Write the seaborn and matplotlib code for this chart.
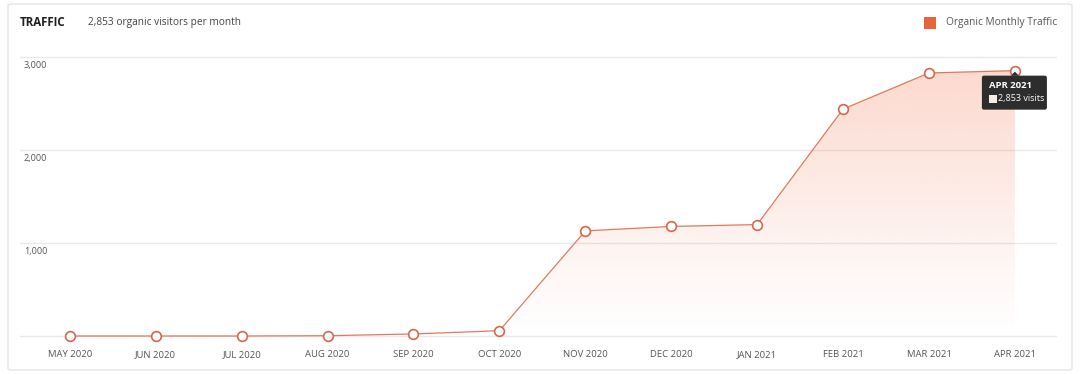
import numpy as np
import pandas as pd
import matplotlib
matplotlib.use("Agg")
import matplotlib.pyplot as plt
from matplotlib.patches import FancyBboxPatch, Rectangle, Polygon
import seaborn as sns

# ---- data ----
months = ["MAY 2020", "JUN 2020", "JUL 2020", "AUG 2020", "SEP 2020", "OCT 2020",
          "NOV 2020", "DEC 2020", "JAN 2021", "FEB 2021", "MAR 2021", "APR 2021"]
visits = [0, 0, 0, 3, 22, 57, 1130, 1178, 1198, 2440, 2828, 2853]
y_ticks = [1000, 2000, 3000]
y_tick_labels = ["1,000", "2,000", "3,000"]
title = "TRAFFIC"
subtitle = "2,853 organic visitors per month"
legend_label = "Organic Monthly Traffic"
tooltip_title = "APR 2021"
tooltip_value = "2,853 visits"

ORANGE = "#e8643a"
LINE = "#dd7b5e"
TXT = "#555555"

sns.set_theme(style="white")
plt.rcParams["font.family"] = ["Open Sans", "DejaVu Sans"]

W, H = 1080, 374
fig = plt.figure(figsize=(W / 100, H / 100), dpi=100)
fig.patch.set_facecolor("white")

# card border
card = FancyBboxPatch((8 / W, 4 / H), (1064) / W, (366) / H,
                      boxstyle="round,pad=0,rounding_size=0.004",
                      transform=fig.transFigure, fc="none", ec="#e4e4e4", lw=1.0, zorder=-5)
fig.patches.append(card)

# axes placement (pixels from top)
ax_left, ax_right, ax_top, ax_bottom = 20, 1057, 50, 340
ax = fig.add_axes([ax_left / W, (H - ax_bottom) / H, (ax_right - ax_left) / W, (ax_bottom - ax_top) / H])
ax.set_facecolor("none")

df = pd.DataFrame({"idx": np.arange(len(months)), "visits": visits})
ax.set_xlim(-0.58, 11.49)
ax.set_ylim(-43, 3075)

# gridlines
for v in [0] + y_ticks:
    ax.axhline(v, color="#e9e9e9", lw=1.0, zorder=0)

# gradient fill clipped under the line
xs = df["idx"].to_numpy()
ys = df["visits"].to_numpy()
poly = Polygon(np.column_stack([np.r_[xs, xs[-1], xs[0]], np.r_[ys, 0, 0]]),
               closed=True, fc="none", ec="none", transform=ax.transData)
ax.add_patch(poly)
grad = np.linspace(0, 1, 256).reshape(-1, 1)
rgba = np.zeros((256, 1, 4))
c = matplotlib.colors.to_rgb("#f47a52")
rgba[..., 0], rgba[..., 1], rgba[..., 2] = c
rgba[..., 3] = 0.30 * grad ** 1.1
img = ax.imshow(rgba, extent=[xs[0], xs[-1], 0, 3000], origin="lower",
                aspect="auto", zorder=1, interpolation="bilinear")
img.set_clip_path(poly)

# line + markers
sns.lineplot(data=df, x="idx", y="visits", ax=ax, color=LINE, lw=0.9, zorder=3,
             marker="o", markersize=7, markerfacecolor="white",
             markeredgecolor="#d8664a", markeredgewidth=1.2, clip_on=False)

for s in ax.spines.values():
    s.set_visible(False)
ax.set_xlabel("")
ax.set_ylabel("")
ax.set_xticks(xs)
ax.set_xticklabels(months, fontsize=6.8, color=TXT)
ax.tick_params(axis="x", length=0, pad=7)
ax.set_yticks([])
ax.grid(False)

# y labels below gridlines, left aligned
ytrans = matplotlib.transforms.blended_transform_factory(fig.transFigure, ax.transData)
for v, lab in zip(y_ticks, y_tick_labels):
    t = ax.text(24 / W, v, lab, transform=ytrans, ha="left", va="top",
                fontsize=6.6, color=TXT)
    t.set_transform(ytrans + matplotlib.transforms.ScaledTranslation(0, -3 / 72, fig.dpi_scale_trans))

# header
fig.text(20 / W, 1 - 23 / H, title, fontsize=8.3, fontweight="bold", color="#1e1e1e",
         ha="left", va="center")
fig.text(88 / W, 1 - 23 / H, subtitle, fontsize=7.3, color="#444444", ha="left", va="center")
fig.patches.append(Rectangle((924 / W, 1 - 29 / H), 12 / W, 12 / H, transform=fig.transFigure,
                             fc=ORANGE, ec="none"))
fig.text(946 / W, 1 - 23 / H, legend_label, fontsize=7.3, color="#555555", ha="left", va="center")

# tooltip at last point
fig.canvas.draw()
px, py = ax.transData.transform((xs[-1], ys[-1]))
bx0, by0 = px - 33, py - 39
tip = FancyBboxPatch((bx0, by0), 65, 34, boxstyle="round,pad=0,rounding_size=2",
                     transform=None, fc="#2d2d2d", ec="none", zorder=10)
fig.patches.append(tip)
fig.patches.append(Polygon([[px - 4, by0 + 34], [px + 4, by0 + 34], [px, by0 + 38]],
                           closed=True, transform=None, fc="#2d2d2d", ec="none", zorder=10))
fig.text(bx0 + 7, by0 + 24, tooltip_title, transform=None, fontsize=6.8, fontweight="bold",
         color="white", ha="left", va="center", zorder=11)
fig.patches.append(Rectangle((bx0 + 7, by0 + 7), 8, 8, transform=None, fc="#f7ece8",
                             ec="none", zorder=11))
fig.text(bx0 + 16, by0 + 11, tooltip_value, transform=None, fontsize=6.5,
         color="white", ha="left", va="center", zorder=11)

fig.savefig("out.png", dpi=100, facecolor="white")
